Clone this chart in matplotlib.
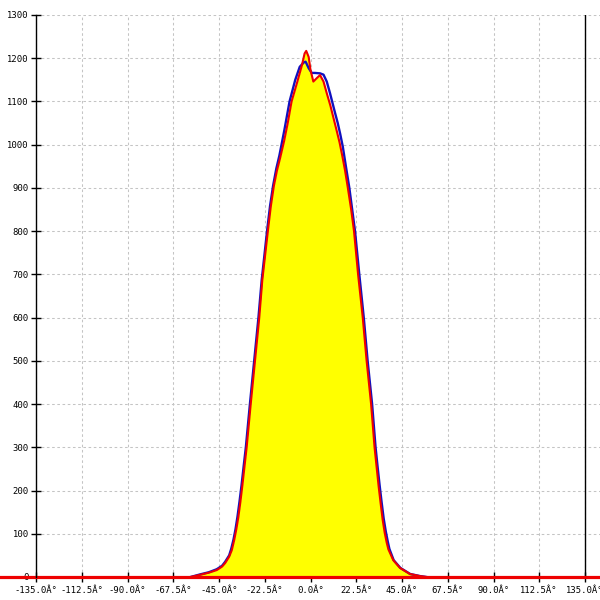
import numpy as np
import matplotlib
matplotlib.use("Agg")
import matplotlib.pyplot as plt

# angles (deg) and counts
red_angle = [-59, -54.3, -50, -46.1, -43.5, -42, -40, -38.7, -37.5, -36.5,
             -35.5, -34.5, -33.5, -32.5, -31.4, -29.4, -27.3, -25.2, -23.7,
             -20.9, -19.5, -18.0, -16.5, -15.0, -13.0, -11.2, -9.3, -6.7,
             -4.2, -2.9, -2.1, -0.9, 0.0, 1.4, 3.1, 4.7, 6.4, 8.0, 9.8, 11.4,
             12.9, 14.3, 15.6, 17.0, 18.3, 20.0, 21.4, 23.4, 25.7, 27.6, 29.8,
             31.5, 32.5, 33.5, 34.5, 35.5, 36.5, 37.5, 38.3, 40.7, 44.0, 48.9,
             53.9, 57]
red_count = [0, 5, 10, 16, 24, 32, 47, 62, 86, 110,
             138, 173, 212, 254, 300, 400, 500, 600, 687,
             803, 858, 905, 940, 968, 1008, 1050, 1100, 1142,
             1184, 1211, 1217, 1203, 1173, 1146, 1154, 1161, 1146, 1119, 1090, 1060,
             1032, 1005, 975, 940, 902, 850, 800, 700, 600, 500, 400,
             300, 255, 210, 170, 132, 102, 79, 64, 39, 21, 7,
             2, 0]

blue_angle = [-59, -54.3, -50, -46.1, -43.5, -42, -40, -39.0, -37.9, -36.9,
              -35.9, -34.9, -33.9, -32.9, -31.8, -29.8, -27.7, -25.6, -24.0,
              -21.3, -19.9, -18.4, -16.8, -15.3, -12.8, -10.3, -7.5, -5.3,
              -3.4, -2.4, -0.9, 0.6, 2.2, 4.7, 6.4, 8.0, 9.6, 12.1, 13.4,
              14.6, 15.9, 17.4, 19.1, 20.5, 21.9, 24.0, 26.2, 28.1, 30.3, 32.0,
              33.0, 34.0, 35.0, 36.0, 37.0, 38.0, 38.8, 40.9, 44.2, 49.0,
              54.0, 57]
blue_count = [0, 6, 11, 18, 26, 35, 50, 65, 86, 110,
              140, 175, 213, 255, 300, 400, 500, 600, 687,
              803, 858, 905, 945, 975, 1035, 1100, 1150, 1180,
              1190, 1192, 1177, 1166, 1166, 1165, 1162, 1146, 1119, 1073, 1050,
              1025, 995, 950, 900, 850, 800, 700, 600, 500, 400, 300,
              255, 212, 172, 135, 106, 82, 65, 39, 21, 7,
              2, 0]

x_ticks = [-135.0, -112.5, -90.0, -67.5, -45.0, -22.5, 0.0,
           22.5, 45.0, 67.5, 90.0, 112.5, 135.0]
y_ticks = list(range(0, 1301, 100))

W, H = 600, 600
px_per_deg = 549 / 270.0

fig = plt.figure(figsize=(6, 6), dpi=100)
ax = fig.add_axes([36 / W, 23 / H, 564 / W, 562 / H])
ax.set_xlim(-135, -135 + 564 / px_per_deg)
ax.set_ylim(0, 1300)

ax.fill_between(red_angle, red_count, 0, color="#ffff00", lw=0, zorder=2)
ax.plot(blue_angle, blue_count, color="#1010c0", lw=1.7, zorder=3,
        solid_joinstyle="round")
ax.plot(red_angle, red_count, color="#ee0000", lw=1.5, zorder=4,
        solid_joinstyle="round")

# red baseline runs over the full width of the picture
ax.axhline(0, xmin=-36 / 564, xmax=1, color="#ee0000", lw=2.3,
           clip_on=False, zorder=5)
ax.axvline(135, color="black", lw=1.0, zorder=1)

for s in ["top", "right", "bottom"]:
    ax.spines[s].set_visible(False)
ax.spines["left"].set_linewidth(1.0)
ax.spines["left"].set_zorder(6)

ax.set_xticks(x_ticks)
ax.set_xticklabels([f"{v:.1f}Â°" for v in x_ticks])
ax.set_yticks(y_ticks)
ax.set_yticklabels([str(v) for v in y_ticks])
ax.tick_params(direction="inout", length=6.5, width=1.0, color="black",
               labelsize=6.4, labelcolor="black")
ax.tick_params(axis="x", pad=3)
ax.tick_params(axis="y", pad=2)
for lab in ax.get_xticklabels() + ax.get_yticklabels():
    lab.set_family("DejaVu Sans Mono")

ax.grid(True, color="#c4c4c4", linestyle=(0, (2.5, 2.5)), lw=0.75, zorder=0)
ax.set_axisbelow(True)

fig.savefig("out.png", dpi=100)
